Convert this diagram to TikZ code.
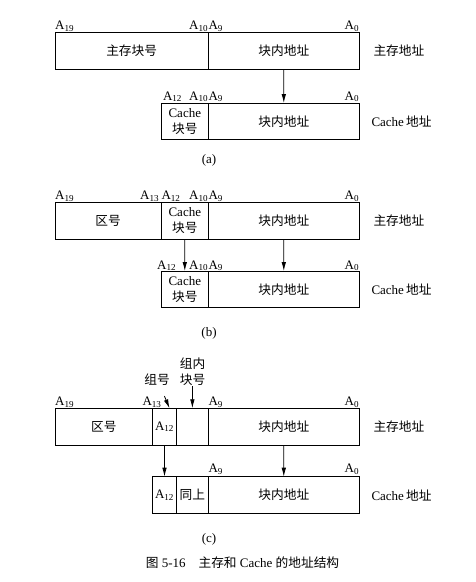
\documentclass[tikz,border=0pt]{standalone}
\usepackage{fontspec}
\setmainfont{Liberation Serif}
\newfontfamily\cjk{Noto Sans CJK SC}
\usetikzlibrary{positioning}
\usetikzlibrary{arrows.meta}
\newcommand{\zh}[1]{{\cjk\fontsize{12.7}{16}\selectfont #1}}
\newcommand{\addr}[1]{A\textsubscript{#1}}

\begin{document}
\begin{tikzpicture}[x=1pt, y=-1pt,
    field/.style={draw, line width=.8pt, inner sep=0pt, outer sep=0pt,
      minimum height=36.7pt, align=center, font=\fontsize{13}{16}\selectfont},
    addr/.style={inner sep=0pt, font=\fontsize{13}{16}\selectfont},
    link/.style={-{Latex[length=9pt,width=4.5pt]}, line width=.8pt}]
  \useasboundingbox (0,0) rectangle (475,582);

  % (a)
  \node[field, anchor=north west, minimum width=153.3pt] (a-blk) at (55,32.3) {\zh{主存块号}};
  \node[field, right=0pt of a-blk, minimum width=151pt] (a-off) {\zh{块内地址}};
  \node[field, anchor=north west, minimum width=47pt] (a-cblk) at (161.3,103) {Cache\\\zh{块号}};
  \node[field, right=0pt of a-cblk, minimum width=151pt] (a-coff) {\zh{块内地址}};
  \node[addr, anchor=base west] (a-19) at ([yshift=3pt]a-blk.north west) {\addr{19}};
  \node[addr, anchor=base east] (a-10) at ([yshift=3pt]a-blk.north east) {\addr{10}};
  \node[addr, anchor=base west] (a-9) at ([yshift=3pt]a-off.north west) {\addr{9}};
  \node[addr, anchor=base east] (a-0) at ([yshift=3pt]a-off.north east) {\addr{0}};
  \node[addr, anchor=base west] (a-c12) at ([xshift=1.5pt,yshift=3pt]a-cblk.north west) {\addr{12}};
  \node[addr, anchor=base east] (a-c10) at ([yshift=3pt]a-cblk.north east) {\addr{10}};
  \node[addr, anchor=base west] (a-c9) at ([yshift=3pt]a-coff.north west) {\addr{9}};
  \node[addr, anchor=base east] (a-c0) at ([yshift=3pt]a-coff.north east) {\addr{0}};
  \node[addr, anchor=west] (a-main) at ([xshift=14pt]a-off.east) {\zh{主存地址}};
  \node[addr, anchor=west] (a-cache) at ([xshift=12pt]a-coff.east) {Cache\,\zh{地址}};
  \path (a-off) edge[link] (a-coff);
  \node[addr] (cap-a) at (209,160) {(a)};

  % (b)
  \node[field, anchor=north west, minimum width=106.3pt] (b-zone) at (55,202.3) {\zh{区号}};
  \node[field, right=0pt of b-zone, minimum width=47pt] (b-cblk) {Cache\\\zh{块号}};
  \node[field, right=0pt of b-cblk, minimum width=151pt] (b-off) {\zh{块内地址}};
  \node[field, anchor=north west, minimum width=47pt] (b-ccblk) at (161.3,271) {Cache\\\zh{块号}};
  \node[field, right=0pt of b-ccblk, minimum width=151pt] (b-coff) {\zh{块内地址}};
  \node[addr, anchor=base west] (b-19) at ([yshift=3pt]b-zone.north west) {\addr{19}};
  \node[addr, anchor=base east] (b-13) at ([xshift=-2pt,yshift=3pt]b-zone.north east) {\addr{13}};
  \node[addr, anchor=base west] (b-12) at ([yshift=3pt]b-cblk.north west) {\addr{12}};
  \node[addr, anchor=base east] (b-10) at ([yshift=3pt]b-cblk.north east) {\addr{10}};
  \node[addr, anchor=base west] (b-9) at ([yshift=3pt]b-off.north west) {\addr{9}};
  \node[addr, anchor=base east] (b-0) at ([yshift=3pt]b-off.north east) {\addr{0}};
  \node[addr, anchor=base east] (b-c12) at ([xshift=15pt,yshift=2pt]b-ccblk.north west) {\addr{12}};
  \node[addr, anchor=base east] (b-c10) at ([yshift=2pt]b-ccblk.north east) {\addr{10}};
  \node[addr, anchor=base west] (b-c9) at ([yshift=2pt]b-coff.north west) {\addr{9}};
  \node[addr, anchor=base east] (b-c0) at ([yshift=2pt]b-coff.north east) {\addr{0}};
  \node[addr, anchor=west] (b-main) at ([xshift=14pt]b-off.east) {\zh{主存地址}};
  \node[addr, anchor=west] (b-cache) at ([xshift=12pt]b-coff.east) {Cache\,\zh{地址}};
  \path (b-cblk) edge[link] (b-ccblk);
  \path (b-off) edge[link] (b-coff);
  \node[addr] (cap-b) at (209,333) {(b)};

  % (c)
  \node[field, anchor=north west, minimum width=97.7pt] (c-zone) at (55,408.3) {\zh{区号}};
  \node[field, right=0pt of c-zone, minimum width=23.6pt] (c-grp) {\addr{12}};
  \node[field, right=0pt of c-grp, minimum width=32pt] (c-inblk) {};
  \node[field, right=0pt of c-inblk, minimum width=151pt] (c-off) {\zh{块内地址}};
  \node[field, anchor=north west, minimum width=23.6pt] (c-c12) at (152.7,476.7) {\addr{12}};
  \node[field, right=0pt of c-c12, minimum width=32pt] (c-same) {\zh{同上}};
  \node[field, right=0pt of c-same, minimum width=151pt] (c-coff) {\zh{块内地址}};
  \node[addr, anchor=base west] (c-19) at ([yshift=3pt]c-zone.north west) {\addr{19}};
  \node[addr, anchor=base east] (c-13) at ([xshift=9pt,yshift=3pt]c-zone.north east) {\addr{13}};
  \node[addr, anchor=base west] (c-9) at ([yshift=3pt]c-off.north west) {\addr{9}};
  \node[addr, anchor=base east] (c-0) at ([yshift=3pt]c-off.north east) {\addr{0}};
  \node[addr, anchor=base west] (c-c9) at ([yshift=4pt]c-coff.north west) {\addr{9}};
  \node[addr, anchor=base east] (c-c0) at ([yshift=4pt]c-coff.north east) {\addr{0}};
  \node[addr, anchor=west] (c-main) at ([xshift=14pt]c-off.east) {\zh{主存地址}};
  \node[addr, anchor=west] (c-cache) at ([xshift=12pt]c-coff.east) {Cache\,\zh{地址}};
  \node[addr] (c-grpno) at (157,380) {\zh{组号}};
  \node[addr, align=center] (c-inno) at (192.5,372) {\zh{组内}\\\zh{块号}};
  \coordinate (c-tip) at ([xshift=5pt]c-grp.north);
  \path ([xshift=-5.5pt,yshift=-10pt]c-grpno.south east) edge[link] (c-tip);
  \path (c-inno) edge[link] (c-inblk);
  \path (c-grp) edge[link] (c-c12);
  \path (c-off) edge[link] (c-coff);
  \node[addr] (cap-c) at (209,539) {(c)};

  \node[addr] (caption) at (242.5,562.7) {\zh{图} 5-16\hspace{1em}\zh{主存和} Cache \zh{的地址结构}};
\end{tikzpicture}
\end{document}
